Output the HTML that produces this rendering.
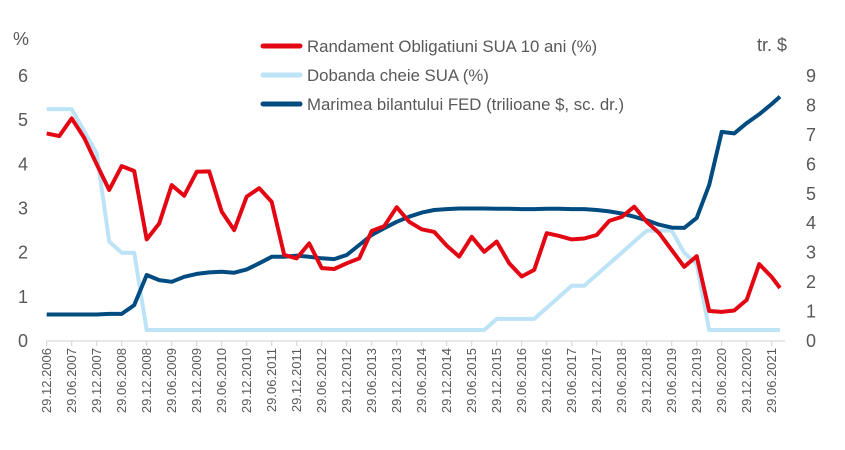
<!DOCTYPE html>
<html><head><meta charset="utf-8"><style>
html,body{margin:0;padding:0;background:#fff;}
svg{display:block;font-family:"Liberation Sans",Arial,sans-serif;}
</style></head><body>
<svg id="chart" width="845" height="450" viewBox="0 0 845 450" xmlns="http://www.w3.org/2000/svg">
<text x="13" y="45" font-size="18" fill="#595959">%</text>
<text x="757" y="51" font-size="18" fill="#595959">tr. $</text>
<g id="legend">
<g><line x1="263" y1="46" x2="300" y2="46" stroke="#E30613" stroke-width="5" stroke-linecap="round"/><text x="307" y="52" font-size="16.8" fill="#595959">Randament Obligatiuni SUA 10 ani (%)</text></g>
<g><line x1="263" y1="75" x2="300" y2="75" stroke="#BDE3F7" stroke-width="5" stroke-linecap="round"/><text x="307" y="81" font-size="16.8" fill="#595959">Dobanda cheie SUA (%)</text></g>
<g><line x1="263" y1="104" x2="300" y2="104" stroke="#004B7F" stroke-width="5" stroke-linecap="round"/><text x="307" y="110" font-size="16.8" fill="#595959">Marimea bilantului FED (trilioane $, sc. dr.)</text></g>
</g>
<g id="axes"></g>
<g id="series"></g>
</svg>
<script>
const leftTicks = [0,1,2,3,4,5,6];
const rightTicks = [0,1,2,3,4,5,6,7,8,9];
const yieldValues = [4.70,4.64,5.04,4.6,4.0,3.42,3.96,3.85,2.3,2.66,3.53,3.29,3.83,3.84,2.93,2.51,3.27,3.46,3.15,1.95,1.87,2.21,1.65,1.63,1.76,1.87,2.49,2.60,3.03,2.70,2.53,2.47,2.16,1.91,2.36,2.02,2.25,1.76,1.46,1.61,2.44,2.38,2.30,2.32,2.40,2.72,2.81,3.04,2.70,2.44,2.06,1.68,1.92,0.68,0.66,0.69,0.93,1.74,1.45,1.20];
const rateValues = [5.25,5.25,5.25,4.75,4.25,2.25,2.0,2.0,0.25,0.25,0.25,0.25,0.25,0.25,0.25,0.25,0.25,0.25,0.25,0.25,0.25,0.25,0.25,0.25,0.25,0.25,0.25,0.25,0.25,0.25,0.25,0.25,0.25,0.25,0.25,0.25,0.5,0.5,0.5,0.5,0.75,1.0,1.25,1.25,1.5,1.75,2.0,2.25,2.5,2.5,2.5,2.0,1.75,0.25,0.25,0.25,0.25,0.25,0.25,0.25];
const fedValues = [0.9,0.9,0.9,0.9,0.9,0.92,0.92,1.22,2.24,2.07,2.01,2.18,2.28,2.33,2.35,2.32,2.43,2.64,2.86,2.86,2.90,2.86,2.81,2.78,2.92,3.26,3.60,3.83,4.05,4.22,4.36,4.45,4.48,4.50,4.50,4.50,4.49,4.49,4.48,4.48,4.49,4.49,4.48,4.48,4.45,4.40,4.33,4.22,4.10,3.95,3.85,3.84,4.18,5.3,7.1,7.05,7.4,7.7,8.05,8.3];
// months since Dec 2006 for each observation (quarterly, last one Aug 2021)
const monthOffsets = [];
for (let i = 0; i < 59; i++) monthOffsets.push(i * 3);
monthOffsets.push(176);
const xLabels = [];
for (let y = 2006; y <= 2021; y++) { if (y > 2006) xLabels.push("29.06." + y); if (y < 2021) xLabels.push("29.12." + y); }

const NS = "http://www.w3.org/2000/svg";
const X0 = 46.7, HALF = 25, Y0 = 341, YTOP = 76;
const xScale = m => X0 + m / 6 * HALF;
const yLeft = v => Y0 - v / 6 * (Y0 - YTOP);
const yRight = v => Y0 - v / 9 * (Y0 - YTOP);
function mk(tag, attrs, parent) { const e = document.createElementNS(NS, tag); for (const k in attrs) e.setAttribute(k, attrs[k]); parent.appendChild(e); return e; }
const axes = document.getElementById("axes");
const series = document.getElementById("series");

const axisLine = mk("line", {x1: X0, y1: Y0, x2: 785, y2: Y0, stroke: "#D9D9D9", "stroke-width": 1.2}, axes);


xLabels.forEach((lab, k) => {
  const x = X0 + k * HALF;
  const t = mk("line", {x1: x, y1: Y0, x2: x, y2: Y0 + 5, stroke: "#D9D9D9", "stroke-width": 1.2}, axes);
  
  
  const tx = mk("text", {x: 0, y: 0, "font-size": 13, fill: "#595959", "text-anchor": "end", transform: "translate(" + (x + 4.5) + "," + (Y0 + 7) + ") rotate(-90)"}, axes);
  tx.textContent = lab;
  
  
});
leftTicks.forEach(v => {
  const tx = mk("text", {x: 28, y: yLeft(v) + 6, "font-size": 18, fill: "#595959", "text-anchor": "end"}, axes);
  tx.textContent = v;
  
  
});
rightTicks.forEach(v => {
  const tx = mk("text", {x: 806, y: yRight(v) + 6, "font-size": 18, fill: "#595959"}, axes);
  tx.textContent = v;
  
  
});
function line(vals, yfn) {
  return vals.map((v, i) => xScale(monthOffsets[i]).toFixed(1) + "," + yfn(v).toFixed(1)).join(" ");
}
const pRate = mk("polyline", {points: line(rateValues, yLeft), fill: "none", stroke: "#BDE3F7", "stroke-width": 4, "stroke-linejoin": "round"}, series);


const pFed = mk("polyline", {points: line(fedValues, yRight), fill: "none", stroke: "#004B7F", "stroke-width": 4, "stroke-linejoin": "round"}, series);


const pYield = mk("polyline", {points: line(yieldValues, yLeft), fill: "none", stroke: "#E30613", "stroke-width": 4, "stroke-linejoin": "round"}, series);


</script>
</body></html>
